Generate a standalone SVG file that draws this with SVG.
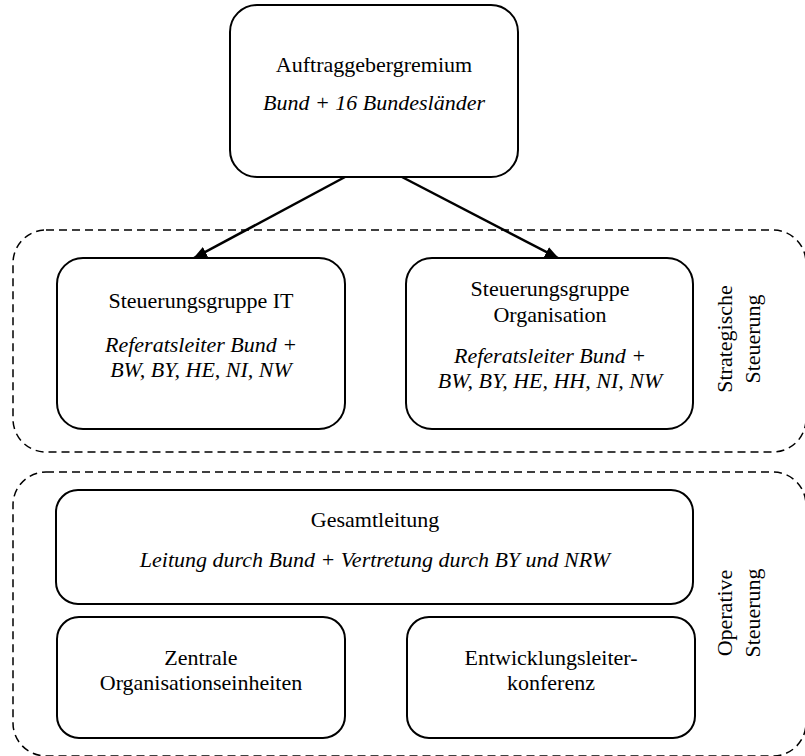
<svg xmlns="http://www.w3.org/2000/svg" width="805" height="756" viewBox="0 0 805 756">
<defs>
<marker id="ah" markerUnits="userSpaceOnUse" markerWidth="14" markerHeight="11" refX="13" refY="5.5" orient="auto">
<path d="M0,0 L14,5.5 L0,11 z" fill="#000"/>
</marker>
</defs>
<rect width="805" height="756" fill="#fff"/>
<g id="group-strategisch">
<rect x="13" y="230" width="793" height="222" rx="33" fill="none" stroke="#000" stroke-width="1.5" stroke-dasharray="8,5"/>
<text x="0" y="0" font-family="Liberation Serif" font-size="22" text-anchor="middle" transform="translate(732,339) rotate(-90)">Strategische</text>
<text x="0" y="0" font-family="Liberation Serif" font-size="22" text-anchor="middle" transform="translate(760,339) rotate(-90)">Steuerung</text>
</g>
<g id="group-operativ">
<rect x="13" y="472" width="793" height="284" rx="33" fill="none" stroke="#000" stroke-width="1.5" stroke-dasharray="8,5"/>
<text x="0" y="0" font-family="Liberation Serif" font-size="22" text-anchor="middle" transform="translate(732,613) rotate(-90)">Operative</text>
<text x="0" y="0" font-family="Liberation Serif" font-size="22" text-anchor="middle" transform="translate(760,613) rotate(-90)">Steuerung</text>
</g>
<g id="connectors" stroke="#000" stroke-width="2.5" fill="none">
<line x1="345" y1="177" x2="194" y2="258" marker-end="url(#ah)"/>
<line x1="402" y1="177" x2="558" y2="258" marker-end="url(#ah)"/>
</g>
<g id="auftraggeber">
<rect x="230" y="5" width="288" height="172" rx="27" fill="#fff" stroke="#000" stroke-width="2"/>
<text font-family="Liberation Serif" font-size="22" text-anchor="middle" x="374" y="72">Auftraggebergremium</text>
<text font-family="Liberation Serif" font-size="22" text-anchor="middle" font-style="italic" x="374" y="110">Bund + 16 Bundesländer</text>
</g>
<g id="sg-it">
<rect x="57" y="258" width="288" height="171" rx="26" fill="#fff" stroke="#000" stroke-width="2"/>
<text font-family="Liberation Serif" font-size="22" text-anchor="middle" x="201" y="308">Steuerungsgruppe IT</text>
<text font-family="Liberation Serif" font-size="22" text-anchor="middle" font-style="italic" x="201" y="352">Referatsleiter Bund +</text>
<text font-family="Liberation Serif" font-size="22" text-anchor="middle" font-style="italic" x="201" y="377">BW, BY, HE, NI, NW</text>
</g>
<g id="sg-org">
<rect x="406" y="258" width="287" height="171" rx="26" fill="#fff" stroke="#000" stroke-width="2"/>
<text font-family="Liberation Serif" font-size="22" text-anchor="middle" x="550" y="296">Steuerungsgruppe</text>
<text font-family="Liberation Serif" font-size="22" text-anchor="middle" x="550" y="322">Organisation</text>
<text font-family="Liberation Serif" font-size="22" text-anchor="middle" font-style="italic" x="550" y="363">Referatsleiter Bund +</text>
<text font-family="Liberation Serif" font-size="22" text-anchor="middle" font-style="italic" x="550" y="388">BW, BY, HE, HH, NI, NW</text>
</g>
<g id="gesamtleitung">
<rect x="56" y="490" width="637" height="114" rx="22" fill="#fff" stroke="#000" stroke-width="2"/>
<text font-family="Liberation Serif" font-size="22" text-anchor="middle" x="375" y="527">Gesamtleitung</text>
<text font-family="Liberation Serif" font-size="22" text-anchor="middle" font-style="italic" x="375" y="567">Leitung durch Bund + Vertretung durch BY und NRW</text>
</g>
<g id="zentrale">
<rect x="57" y="617" width="288" height="121" rx="22" fill="#fff" stroke="#000" stroke-width="2"/>
<text font-family="Liberation Serif" font-size="22" text-anchor="middle" x="201" y="665">Zentrale</text>
<text font-family="Liberation Serif" font-size="22" text-anchor="middle" x="201" y="690">Organisationseinheiten</text>
</g>
<g id="entwicklung">
<rect x="407" y="617" width="288" height="121" rx="22" fill="#fff" stroke="#000" stroke-width="2"/>
<text font-family="Liberation Serif" font-size="22" text-anchor="middle" x="551" y="665">Entwicklungsleiter-</text>
<text font-family="Liberation Serif" font-size="22" text-anchor="middle" x="551" y="690">konferenz</text>
</g>
</svg>
